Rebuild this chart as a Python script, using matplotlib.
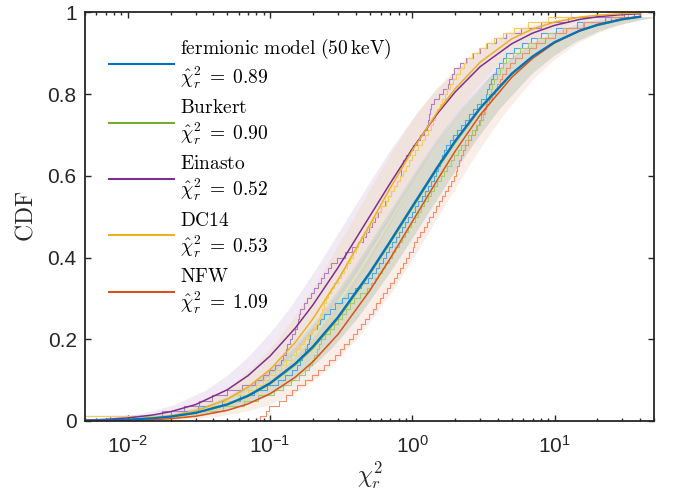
import matplotlib
matplotlib.use("Agg")
import matplotlib.pyplot as plt
import numpy as np
from matplotlib.lines import Line2D
from matplotlib.ticker import FixedLocator, FuncFormatter, LogLocator, NullFormatter

plt.rcParams['font.family'] = ['Liberation Sans', 'DejaVu Sans']
plt.rcParams['mathtext.fontset'] = 'cm'

# model CDFs (smooth curves)
x_model = [0.005, 0.007, 0.01, 0.015, 0.02, 0.03, 0.05, 0.07, 0.1, 0.15, 0.2, 0.3, 0.5,
           0.7, 1, 1.5, 2, 3, 5, 7, 10, 15, 20, 30, 40]
cdf_fermionic = [0.0009, 0.0017, 0.0033, 0.0068, 0.0108, 0.020, 0.0407, 0.0618, 0.0926, 0.140,
                 0.182, 0.254, 0.362, 0.440, 0.525, 0.621, 0.685, 0.766, 0.850, 0.892,
                 0.927, 0.955, 0.969, 0.983, 0.989]
cdf_burkert = [0.0008, 0.0016, 0.0031, 0.0065, 0.0104, 0.0193, 0.0395, 0.0603, 0.0906, 0.137,
               0.178, 0.250, 0.358, 0.436, 0.521, 0.617, 0.681, 0.763, 0.848, 0.890,
               0.926, 0.954, 0.968, 0.982, 0.989]
cdf_einasto = [0.0021, 0.0040, 0.0076, 0.0147, 0.0228, 0.0403, 0.0764, 0.111, 0.159, 0.227,
               0.284, 0.375, 0.500, 0.582, 0.666, 0.752, 0.805, 0.867, 0.923, 0.949,
               0.968, 0.9825, 0.989, 0.9944, 0.9967]
cdf_dc14 = [0.0007, 0.0016, 0.0034, 0.0075, 0.0127, 0.0249, 0.0533, 0.0829, 0.126, 0.192,
            0.250, 0.345, 0.479, 0.570, 0.662, 0.756, 0.813, 0.878, 0.935, 0.959,
            0.976, 0.988, 0.9929, 0.9968, 0.9983]
cdf_nfw = [0.0003, 0.0007, 0.0015, 0.0033, 0.0057, 0.0116, 0.026, 0.0419, 0.0667, 0.107,
           0.145, 0.212, 0.318, 0.398, 0.488, 0.590, 0.660, 0.749, 0.841, 0.887,
           0.925, 0.955, 0.970, 0.984, 0.990]

# reduced chi^2 of the single fits (empirical CDF steps)
chi2_fermionic = [0.0045, 0.0202, 0.0311, 0.0461, 0.0618, 0.0767, 0.0951, 0.114, 0.128, 0.143,
                  0.154, 0.161, 0.169, 0.175, 0.181, 0.187, 0.192, 0.197, 0.212, 0.226,
                  0.241, 0.263, 0.286, 0.318, 0.355, 0.394, 0.436, 0.484, 0.522, 0.553,
                  0.585, 0.617, 0.650, 0.685, 0.723, 0.762, 0.804, 0.847, 0.891, 0.938,
                  0.991, 1.04, 1.10, 1.16, 1.22, 1.29, 1.36, 1.43, 1.47, 1.52,
                  1.57, 1.62, 1.67, 1.73, 1.83, 1.94, 2.07, 2.19, 2.33, 2.49,
                  2.66, 2.83, 3.04, 3.27, 3.37, 3.47, 3.58, 3.72, 3.89, 4.07,
                  4.31, 4.59, 5.16, 5.89, 6.81, 8.07, 10.3, 14.3, 22.5, 36.0]
chi2_burkert = [0.011, 0.0302, 0.0465, 0.0658, 0.0822, 0.107, 0.124, 0.141, 0.159, 0.177,
                0.187, 0.196, 0.205, 0.213, 0.220, 0.227, 0.244, 0.262, 0.282, 0.301,
                0.321, 0.342, 0.364, 0.386, 0.431, 0.478, 0.516, 0.548, 0.578, 0.612,
                0.647, 0.682, 0.719, 0.759, 0.800, 0.843, 0.889, 0.938, 0.986, 1.04,
                1.10, 1.15, 1.21, 1.28, 1.35, 1.42, 1.50, 1.58, 1.67, 1.76,
                1.86, 1.97, 2.08, 2.20, 2.33, 2.47, 2.62, 2.79, 2.97, 3.16,
                3.22, 3.28, 3.37, 3.45, 3.56, 3.66, 3.78, 3.94, 4.11, 4.31,
                4.55, 5.08, 5.72, 6.52, 7.53, 8.93, 11.4, 15.8, 24.9, 33.0]
chi2_einasto = [0.0075, 0.0175, 0.0249, 0.0319, 0.0388, 0.0501, 0.0634, 0.0789, 0.0885, 0.0984,
                0.109, 0.119, 0.124, 0.129, 0.132, 0.138, 0.143, 0.149, 0.154, 0.156,
                0.159, 0.162, 0.172, 0.182, 0.193, 0.204, 0.216, 0.229, 0.241, 0.254,
                0.269, 0.296, 0.334, 0.377, 0.416, 0.448, 0.471, 0.495, 0.521, 0.548,
                0.577, 0.607, 0.638, 0.671, 0.706, 0.743, 0.783, 0.824, 0.830, 0.834,
                0.861, 0.908, 0.957, 1.01, 1.07, 1.13, 1.20, 1.27, 1.29, 1.32,
                1.34, 1.36, 1.42, 1.53, 1.64, 1.77, 1.82, 1.89, 1.97, 2.16,
                2.38, 2.65, 2.97, 3.37, 3.89, 4.58, 5.83, 8.02, 12.5, 31.0]
chi2_dc14 = [0.004, 0.0264, 0.0372, 0.0476, 0.0597, 0.0695, 0.0791, 0.0887, 0.0986, 0.109,
             0.119, 0.129, 0.140, 0.151, 0.162, 0.173, 0.185, 0.197, 0.210, 0.218,
             0.225, 0.233, 0.240, 0.248, 0.256, 0.270, 0.283, 0.299, 0.313, 0.330,
             0.346, 0.362, 0.380, 0.399, 0.418, 0.438, 0.459, 0.481, 0.504, 0.527,
             0.565, 0.605, 0.649, 0.679, 0.713, 0.746, 0.782, 0.820, 0.861, 0.902,
             0.946, 0.995, 1.05, 1.10, 1.16, 1.22, 1.29, 1.36, 1.40, 1.45,
             1.50, 1.56, 1.62, 1.69, 1.76, 1.84, 1.93, 2.03, 2.15, 2.29,
             2.44, 2.63, 2.92, 3.28, 3.73, 4.35, 5.20, 6.52, 8.97, 13.0]
chi2_nfw = [0.085, 0.093, 0.0986, 0.115, 0.129, 0.142, 0.155, 0.176, 0.196, 0.218,
            0.239, 0.261, 0.284, 0.308, 0.333, 0.357, 0.383, 0.410, 0.439, 0.467,
            0.497, 0.527, 0.559, 0.592, 0.627, 0.662, 0.698, 0.738, 0.776, 0.819,
            0.863, 0.906, 0.955, 1.005, 1.03, 1.08, 1.14, 1.20, 1.26, 1.32,
            1.39, 1.46, 1.53, 1.61, 1.69, 1.77, 1.86, 1.96, 2.02, 2.07,
            2.13, 2.20, 2.26, 2.33, 2.46, 2.60, 2.75, 2.85, 2.95, 3.06,
            3.18, 3.31, 3.46, 3.62, 3.79, 3.94, 4.10, 4.30, 4.52, 4.82,
            5.30, 5.88, 6.56, 7.43, 8.53, 10.0, 12.1, 16.1, 24.8, 40.0]

model_names = [r'$\mathrm{fermionic\ model\ (50\,keV)}$', r'$\mathrm{Burkert}$',
               r'$\mathrm{Einasto}$', r'$\mathrm{DC14}$', r'$\mathrm{NFW}$']
chi2_hat = ['0.89', '0.90', '0.52', '0.53', '1.09']
band_dex = [0.14, 0.13, 0.15, 0.14, 0.16]   # half width of the shaded bands (decades)

colors = ['#0072BD', '#77AC30', '#7E2F8E', '#EDB120', '#D95319']
step_colors = ['#4DA8DE', '#A3CC6A', '#B27DC4', '#F5CB5C', '#F0906A']

cdfs = [cdf_fermionic, cdf_burkert, cdf_einasto, cdf_dc14, cdf_nfw]
samples = [chi2_fermionic, chi2_burkert, chi2_einasto, chi2_dc14, chi2_nfw]

fig = plt.figure(figsize=(6.73, 4.95), dpi=100)
ax = fig.add_axes([0.1263, 0.1495, 0.8455, 0.8257])

xm = np.array(x_model)
for cdf, w, c in zip(cdfs, band_dex, colors):
    ax.fill_betweenx(cdf, xm / 10**w, xm * 10**w, color=c, alpha=0.1, lw=0)

for s, c in zip(samples, step_colors):
    ax.ecdf(s, color=c, lw=0.8)

order = [1, 2, 3, 4, 0]
lws = [1.6, 1.1, 1.1, 1.1, 1.1]
for k in order:
    ax.plot(x_model, cdfs[k], color=colors[k], lw=lws[k])

ax.set_xscale('log')
ax.set_xlim(0.005, 50)
ax.set_ylim(0, 1)

ax.xaxis.set_major_locator(FixedLocator([0.01, 0.1, 1, 10]))
ax.xaxis.set_major_formatter(FuncFormatter(lambda v, p: r'$\mathregular{10^{%d}}$' % round(np.log10(v))))
ax.xaxis.set_minor_locator(LogLocator(base=10, subs=np.arange(2, 10), numticks=20))
ax.xaxis.set_minor_formatter(NullFormatter())
ax.set_yticks([0, 0.2, 0.4, 0.6, 0.8, 1])
ax.set_yticklabels(['0', '0.2', '0.4', '0.6', '0.8', '1'])

dark = '#262626'
for sp in ax.spines.values():
    sp.set_linewidth(1.3)
    sp.set_color(dark)
ax.tick_params(which='both', direction='in', top=True, right=True, colors=dark,
               labelsize=15, width=1.0)
ax.tick_params(which='major', length=4.5)
ax.tick_params(which='minor', length=2.5)
ax.tick_params(axis='x', pad=10)
ax.tick_params(axis='y', pad=6)

ax.set_xlabel(r'$\chi^2_r$', fontsize=17, color=dark, labelpad=2)
ax.set_ylabel(r'$\mathrm{CDF}$', fontsize=17, color=dark, labelpad=7)

handles = [Line2D([], [], color=c, lw=1.5) for c in colors]
labels = [n + '\n' + r'$\hat{\chi}^2_r\;=\;%s$' % v for n, v in zip(model_names, chi2_hat)]
ax.legend(handles, labels, loc='upper left', bbox_to_anchor=(0.042, 0.94),
          frameon=False, fontsize=14, handlelength=3.35, handletextpad=0.3,
          labelspacing=0.42, borderpad=0, borderaxespad=0)

fig.savefig('out.png', dpi=100)
